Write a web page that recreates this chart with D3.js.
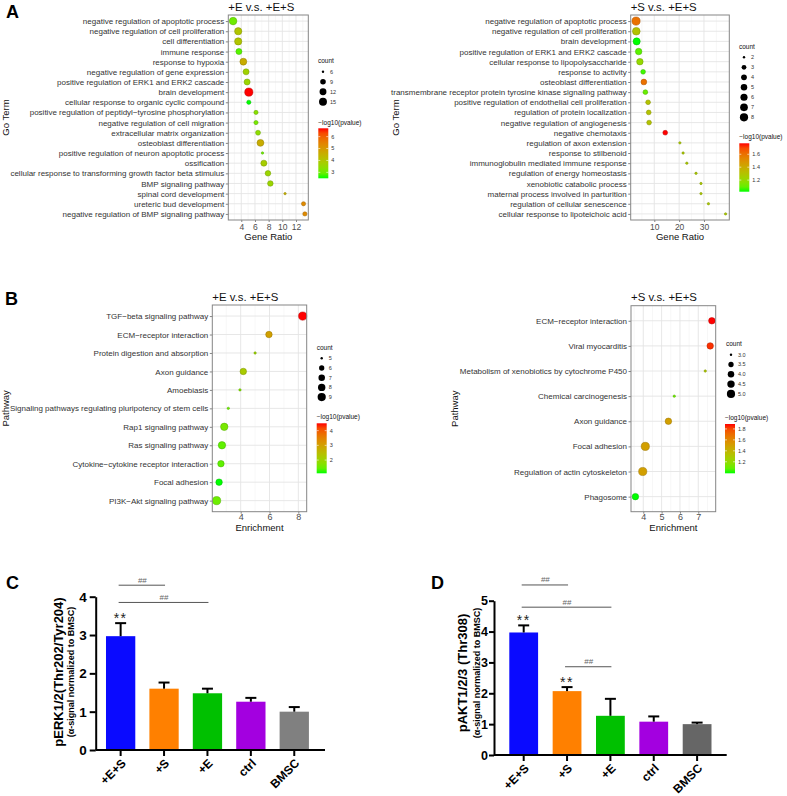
<!DOCTYPE html>
<html><head><meta charset="utf-8">
<script src="https://cdn.jsdelivr.net/npm/d3@7"></script>
<style>
body{margin:0;background:#fff}
svg{display:block}
text{font-family:"Liberation Sans",Arial,Helvetica,sans-serif}
</style>
</head><body>
<svg id="c" width="787" height="796"></svg>
<script>
// ---------------- DATA ----------------
// Panel A left: +E v.s. +E+S (GO terms)
const aLeftTerms = [
  "negative regulation of apoptotic process",
  "negative regulation of cell proliferation",
  "cell differentiation",
  "immune response",
  "response to hypoxia",
  "negative regulation of gene expression",
  "positive regulation of ERK1 and ERK2 cascade",
  "brain development",
  "cellular response to organic cyclic compound",
  "positive regulation of peptidyl\u2212tyrosine phosphorylation",
  "negative regulation of cell migration",
  "extracellular matrix organization",
  "osteoblast differentiation",
  "positive regulation of neuron apoptotic process",
  "ossification",
  "cellular response to transforming growth factor beta stimulus",
  "BMP signaling pathway",
  "spinal cord development",
  "ureteric bud development",
  "negative regulation of BMP signaling pathway"
];
const aLeftRatio = [2.8, 3.55, 3.55, 3.65, 4.3, 4.7, 4.85, 5.1, 5.1, 6.15, 6.15, 6.45, 6.8, 7.1, 7.3, 7.9, 8.25, 10.4, 13.1, 13.3];
const aLeftCount = [14, 13, 13, 10, 12, 10, 10, 16, 7, 7, 7, 8, 12, 6, 10, 9, 9, 6, 7, 7];
const aLeftLogP  = [3.0, 4.0, 4.0, 2.8, 4.6, 3.7, 3.6, 6.7, 2.5, 3.3, 3.1, 3.4, 4.6, 3.0, 3.8, 3.6, 3.6, 4.5, 5.3, 5.3];
const aLeftCountBreaks = [6, 9, 12, 15];
const aLeftLogPBreaks = [3, 4, 5, 6];
const aLeftXTicks = [4, 6, 8, 10, 12];

// Panel A right: +S v.s. +E+S (GO terms)
const aRightTerms = [
  "negative regulation of apoptotic process",
  "negative regulation of cell proliferation",
  "brain development",
  "positive regulation of ERK1 and ERK2 cascade",
  "cellular response to lipopolysaccharide",
  "response to activity",
  "osteoblast differentiation",
  "transmembrane receptor protein tyrosine kinase signaling pathway",
  "positive regulation of endothelial cell proliferation",
  "regulation of protein localization",
  "negative regulation of angiogenesis",
  "negative chemotaxis",
  "regulation of axon extension",
  "response to stilbenoid",
  "immunoglobulin mediated immune response",
  "regulation of energy homeostasis",
  "xenobiotic catabolic process",
  "maternal process involved in parturition",
  "regulation of cellular senescence",
  "cellular response to lipoteichoic acid"
];
const aRightRatio = [2.65, 2.75, 2.9, 3.7, 4.2, 5.5, 5.8, 6.4, 7.5, 7.75, 7.9, 14.4, 20.3, 21.6, 23.1, 26.8, 28.8, 28.8, 31.8, 38.7];
const aRightCount = [8, 7, 6, 5, 5, 3, 4, 3, 3, 3, 3, 3, 2, 2, 2, 2, 2, 2, 2, 2];
const aRightLogP  = [1.6, 1.3, 1.02, 1.08, 1.2, 1.05, 1.6, 1.1, 1.3, 1.3, 1.3, 1.77, 1.27, 1.27, 1.27, 1.27, 1.27, 1.27, 1.27, 1.27];
const aRightCountBreaks = [2, 3, 4, 5, 6, 7, 8];
const aRightLogPBreaks = [1.2, 1.4, 1.6];
const aRightXTicks = [10, 20, 30];

// Panel B left: +E v.s. +E+S (KEGG pathways)
const bLeftTerms = [
  "TGF\u2212beta signaling pathway",
  "ECM\u2212receptor interaction",
  "Protein digestion and absorption",
  "Axon guidance",
  "Amoebiasis",
  "Signaling pathways regulating pluripotency of stem cells",
  "Rap1 signaling pathway",
  "Ras signaling pathway",
  "Cytokine\u2212cytokine receptor interaction",
  "Focal adhesion",
  "PI3K\u2212Akt signaling pathway"
];
const bLeftEnrich = [8.3, 5.96, 5.0, 4.18, 3.95, 3.14, 2.86, 2.7, 2.63, 2.5, 2.33];
const bLeftCount  = [9, 7, 5, 7, 5, 5, 8, 8, 7, 7, 9];
const bLeftLogP   = [4.5, 3.0, 2.0, 2.2, 1.7, 1.5, 1.6, 1.4, 1.4, 1.1, 1.5];
const bLeftCountBreaks = [5, 6, 7, 8, 9];
const bLeftLogPBreaks = [2, 3, 4];
const bLeftXTicks = [4, 6, 8];

// Panel B right: +S v.s. +E+S (KEGG pathways)
const bRightTerms = [
  "ECM\u2212receptor interaction",
  "Viral myocarditis",
  "Metabolism of xenobiotics by cytochrome P450",
  "Chemical carcinogenesis",
  "Axon guidance",
  "Focal adhesion",
  "Regulation of actin cytoskeleton",
  "Phagosome"
];
const bRightEnrich = [7.74, 7.65, 7.38, 5.69, 5.37, 4.11, 3.97, 3.57];
const bRightCount  = [4, 4, 3, 3, 4, 5, 5, 4];
const bRightLogP   = [1.89, 1.85, 1.3, 1.1, 1.5, 1.5, 1.5, 0.99];
const bRightCountBreaks = [3.0, 3.5, 4.0, 4.5, 5.0];
const bRightLogPBreaks = [1.2, 1.4, 1.6, 1.8];
const bRightXTicks = [4, 5, 6, 7];

// Panel C / D: bar charts
const groups = ["+E+S", "+S", "+E", "ctrl", "BMSC"];
const erkMean = [2.97, 1.60, 1.48, 1.26, 1.00];
const erkErr  = [0.34, 0.16, 0.12, 0.10, 0.12];
const erkStars = ["**", "", "", "", ""];
const erkSig = [["+E+S", "+S", 4.30], ["+E+S", "+E", 3.85]];
const erkTicks = [0, 1, 2, 3, 4];

const aktMean = [3.97, 2.07, 1.27, 1.08, 1.00];
const aktErr  = [0.23, 0.13, 0.55, 0.17, 0.05];
const aktStars = ["**", "**", "", "", ""];
const aktSig = [["+E+S", "+S", 5.51], ["+E+S", "+E", 4.79], ["+S", "+E", 2.86]];
const aktTicks = [0, 1, 2, 3, 4, 5];

// ---------------- DRAWING ----------------
const svg = d3.select("#c");
const FONT = '"Liberation Sans",Arial,Helvetica,sans-serif';
let gradId = 0;

function dotplot(o) {
  const g = svg.append("g");
  const x = d3.scaleLinear().domain(o.xDomain).range([o.x0, o.x1]);
  const y = d3.scalePoint().domain(o.terms).range([o.y0, o.y1]).padding(0.6);
  const cExt = d3.extent(o.logp);
  const col = d3.scaleLinear().domain(cExt).range(["#00ff00", "#ff0000"]).interpolate(d3.interpolateLab);
  const lin = d3.scaleLinear().domain(d3.extent(o.count)).range([0, 1]).clamp(true);
  const rad = c => 1.2 + 2.9 * Math.sqrt(lin(c));

  g.append("rect").attr("x", o.x0).attr("y", o.y0).attr("width", o.x1 - o.x0).attr("height", o.y1 - o.y0).attr("fill", "#fff");
  const grid = g.append("g");
  const minor = [];
  for (let i = 0; i < o.xTicks.length - 1; i++) minor.push((o.xTicks[i] + o.xTicks[i + 1]) / 2);
  const step = o.xTicks[1] - o.xTicks[0];
  minor.unshift(o.xTicks[0] - step / 2);
  minor.push(o.xTicks[o.xTicks.length - 1] + step / 2);
  minor.filter(v => x(v) > o.x0 && x(v) < o.x1).forEach(v =>
    grid.append("line").attr("x1", x(v)).attr("x2", x(v)).attr("y1", o.y0).attr("y2", o.y1)
      .attr("stroke", "#f2f2f2").attr("stroke-width", 0.6));
  o.xTicks.forEach(v =>
    grid.append("line").attr("x1", x(v)).attr("x2", x(v)).attr("y1", o.y0).attr("y2", o.y1)
      .attr("stroke", "#e4e4e4").attr("stroke-width", 0.9));
  o.terms.forEach(t =>
    grid.append("line").attr("x1", o.x0).attr("x2", o.x1).attr("y1", y(t)).attr("y2", y(t))
      .attr("stroke", "#e4e4e4").attr("stroke-width", 0.9));

  const pts = o.terms.map((t, i) => ({ t, v: o.ratio[i], c: o.count[i], p: o.logp[i] }));
  g.append("g").selectAll("circle").data(pts).join("circle")
    .attr("cx", d => x(d.v)).attr("cy", d => y(d.t)).attr("r", d => rad(d.c))
    .attr("fill", d => col(d.p))
    .attr("stroke", d => d3.color(col(d.p)).darker(0.9)).attr("stroke-width", 0.5);

  g.append("rect").attr("x", o.x0).attr("y", o.y0).attr("width", o.x1 - o.x0).attr("height", o.y1 - o.y0)
    .attr("fill", "none").attr("stroke", "#858585").attr("stroke-width", 1);

  const xa = g.append("g").attr("transform", `translate(0,${o.y1})`)
    .call(d3.axisBottom(x).tickValues(o.xTicks).tickSize(2).tickPadding(o.xTickPad).tickFormat(d3.format("~g")));
  xa.select(".domain").remove();
  xa.attr("font-family", FONT).attr("font-size", o.xTickFont);
  xa.selectAll("line").attr("stroke", "#858585");
  xa.selectAll("text").attr("fill", "#4d4d4d");

  const ya = g.append("g").attr("transform", `translate(${o.x0},0)`)
    .call(d3.axisLeft(y).tickSize(2.5).tickPadding(1.5));
  ya.select(".domain").remove();
  ya.attr("font-family", FONT).attr("font-size", o.yTickFont);
  ya.selectAll("line").attr("stroke", "#858585");
  ya.selectAll("text").attr("fill", "#333");

  // title
  g.append("text").attr("x", o.x0).attr("y", o.y0 - 4.5).attr("font-size", 11.4).attr("fill", "#111").text(o.title);
  // axis titles
  g.append("text").attr("x", (o.x0 + o.x1) / 2).attr("y", o.xTitleY).attr("text-anchor", "middle")
    .attr("font-size", 9.5).attr("fill", "#111").text(o.xTitle);
  g.append("text").attr("transform", `translate(${o.yTitleX},${(o.y0 + o.y1) / 2}) rotate(-90)`)
    .attr("text-anchor", "middle").attr("dy", "0.35em").attr("font-size", 9.5).attr("fill", "#111").text(o.yTitle);

  // size legend
  const sl = o.sizeLeg;
  g.append("text").attr("x", sl.x).attr("y", sl.titleY).attr("dy", "0.35em").attr("font-size", 6.5).attr("fill", "#111").text("count");
  o.countBreaks.forEach((b, i) => {
    const yy = sl.y + i * sl.step;
    g.append("circle").attr("cx", sl.x + 5).attr("cy", yy).attr("r", rad(b)).attr("fill", "#000");
    g.append("text").attr("x", sl.x + 12).attr("y", yy).attr("dy", "0.35em").attr("font-size", 5.5).attr("fill", "#333")
      .text(d3.format(o.countFmt)(b));
  });

  // colour legend
  const cl = o.colLeg;
  g.append("text").attr("x", cl.x).attr("y", cl.titleY).attr("dy", "0.35em").attr("font-size", 6.5).attr("fill", "#111").text("\u2212log10(pvalue)");
  const id = "grad" + (gradId++);
  const grad = svg.append("defs").append("linearGradient").attr("id", id)
    .attr("x1", 0).attr("y1", 1).attr("x2", 0).attr("y2", 0);
  d3.range(0, 1.0001, 0.1).forEach(t => {
    grad.append("stop").attr("offset", t).attr("stop-color", col(cExt[0] + t * (cExt[1] - cExt[0])));
  });
  const barW = 10;
  g.append("rect").attr("x", cl.x).attr("y", cl.top).attr("width", barW).attr("height", cl.bottom - cl.top)
    .attr("fill", `url(#${id})`);
  const cy = d3.scaleLinear().domain(cExt).range([cl.bottom, cl.top]);
  o.logpBreaks.forEach(b => {
    g.append("line").attr("x1", cl.x).attr("x2", cl.x + 2).attr("y1", cy(b)).attr("y2", cy(b)).attr("stroke", "#fff").attr("stroke-width", 0.6);
    g.append("line").attr("x1", cl.x + barW - 2).attr("x2", cl.x + barW).attr("y1", cy(b)).attr("y2", cy(b)).attr("stroke", "#fff").attr("stroke-width", 0.6);
    g.append("text").attr("x", cl.x + barW + 3).attr("y", cy(b)).attr("dy", "0.35em").attr("font-size", 5.5).attr("fill", "#333")
      .text(d3.format(o.logpFmt)(b));
  });
}

dotplot({
  terms: aLeftTerms, ratio: aLeftRatio, count: aLeftCount, logp: aLeftLogP,
  countBreaks: aLeftCountBreaks, logpBreaks: aLeftLogPBreaks, xTicks: aLeftXTicks,
  countFmt: "d", logpFmt: "d",
  x0: 228.3, x1: 308.3, y0: 15, y1: 220, xDomain: [2.1, 13.8],
  title: "+E v.s. +E+S", xTitle: "Gene Ratio", yTitle: "Go Term",
  xTitleY: 239.5, yTitleX: 6, xTickFont: 8.5, xTickPad: 2, yTickFont: 8,
  sizeLeg: { x: 318, titleY: 61, y: 71.7, step: 10 },
  colLeg: { x: 318.3, titleY: 122.7, top: 128.3, bottom: 178.3 }
});
dotplot({
  terms: aRightTerms, ratio: aRightRatio, count: aRightCount, logp: aRightLogP,
  countBreaks: aRightCountBreaks, logpBreaks: aRightLogPBreaks, xTicks: aRightXTicks,
  countFmt: "d", logpFmt: ".1f",
  x0: 630.7, x1: 729.3, y0: 15, y1: 220, xDomain: [0.5, 40.2],
  title: "+S v.s. +E+S", xTitle: "Gene Ratio", yTitle: "Go Term",
  xTitleY: 239.5, yTitleX: 396, xTickFont: 8.5, xTickPad: 2, yTickFont: 8,
  sizeLeg: { x: 739, titleY: 46.7, y: 57.3, step: 10 },
  colLeg: { x: 739.3, titleY: 136.7, top: 143.3, bottom: 191.7 }
});
dotplot({
  terms: bLeftTerms, ratio: bLeftEnrich, count: bLeftCount, logp: bLeftLogP,
  countBreaks: bLeftCountBreaks, logpBreaks: bLeftLogPBreaks, xTicks: bLeftXTicks,
  countFmt: "d", logpFmt: "d",
  x0: 212.3, x1: 306.7, y0: 305, y1: 511.7, xDomain: [2.03, 8.58],
  title: "+E v.s. +E+S", xTitle: "Enrichment", yTitle: "Pathway",
  xTitleY: 531, yTitleX: 6, xTickFont: 9, xTickPad: 0, yTickFont: 8,
  sizeLeg: { x: 316.7, titleY: 347.3, y: 358.3, step: 9.7 },
  colLeg: { x: 316.7, titleY: 416.7, top: 423.3, bottom: 473.3 }
});
dotplot({
  terms: bRightTerms, ratio: bRightEnrich, count: bRightCount, logp: bRightLogP,
  countBreaks: bRightCountBreaks, logpBreaks: bRightLogPBreaks, xTicks: bRightXTicks,
  countFmt: ".1f", logpFmt: ".1f",
  x0: 631, x1: 715.7, y0: 305.7, y1: 511.7, xDomain: [3.33, 7.95],
  title: "+S v.s. +E+S", xTitle: "Enrichment", yTitle: "Pathway",
  xTitleY: 531, yTitleX: 455, xTickFont: 9, xTickPad: 0, yTickFont: 8,
  sizeLeg: { x: 726, titleY: 343.3, y: 354.7, step: 9.8 },
  colLeg: { x: 725, titleY: 417.3, top: 424, bottom: 473.3 }
});

// Bar chart panels
function barplot(o) {
  const g = svg.append("g");
  const y = d3.scaleLinear().domain([0, o.ticks[o.ticks.length - 1]]).range([o.yBottom, o.yTop]);
  const x = d3.scaleBand().domain(groups).range([o.xLeft, o.xRight]).paddingInner(o.padIn).paddingOuter(o.padOut);
  const data = groups.map((k, i) => ({ k, m: o.mean[i], e: o.err[i], s: o.stars[i], c: o.colors[i] }));

  g.selectAll("rect.bar").data(data).join("rect")
    .attr("x", d => x(d.k)).attr("width", x.bandwidth())
    .attr("y", d => y(d.m)).attr("height", d => y(0) - y(d.m)).attr("fill", d => d.c);

  const eb = g.append("g").attr("stroke", "#000").attr("stroke-width", 2);
  data.forEach(d => {
    const cx = x(d.k) + x.bandwidth() / 2;
    eb.append("line").attr("x1", cx).attr("x2", cx).attr("y1", y(d.m)).attr("y2", y(d.m + d.e));
    eb.append("line").attr("x1", cx - 5.5).attr("x2", cx + 5.5).attr("y1", y(d.m + d.e)).attr("y2", y(d.m + d.e));
    if (d.s) g.append("text").attr("x", cx).attr("y", y(d.m + d.e) - 0.5).attr("text-anchor", "middle")
      .attr("font-size", 14).attr("letter-spacing", 1.5).attr("fill", "#222").text(d.s);
  });

  const ya = g.append("g").attr("transform", `translate(${o.xLeft},0)`)
    .call(d3.axisLeft(y).tickValues(o.ticks).tickSize(o.yTickSize).tickSizeOuter(0).tickPadding(o.yTickPad).tickFormat(d3.format("d")));
  ya.attr("font-family", FONT).attr("font-size", o.yTickFont).attr("font-weight", "bold");
  ya.selectAll("line, path").attr("stroke", "#000").attr("stroke-width", 2);
  ya.selectAll("text").attr("fill", "#000");

  const xa = g.append("g").attr("transform", `translate(0,${o.yBottom})`)
    .call(d3.axisBottom(x).tickSize(6).tickSizeOuter(0));
  xa.select(".domain").attr("d", `M${o.xLeft},0H${o.axisEnd}`);
  xa.selectAll("line, path").attr("stroke", "#000").attr("stroke-width", 2);
  xa.attr("font-family", FONT).attr("font-size", 12).attr("font-weight", "bold");
  xa.selectAll("text").attr("fill", "#000").attr("text-anchor", "end")
    .attr("x", 0).attr("y", 0).attr("dy", "0.35em")
    .attr("transform", "translate(3,11) rotate(-45)");

  // significance lines
  o.sig.forEach(([a, b, v]) => {
    const xa1 = x(a) + x.bandwidth() / 2, xb = x(b) + x.bandwidth() / 2;
    g.append("line").attr("x1", xa1 - 2).attr("x2", xb + 1).attr("y1", y(v)).attr("y2", y(v))
      .attr("stroke", "#555").attr("stroke-width", 1);
    g.append("text").attr("x", (xa1 + xb) / 2).attr("y", y(v) - 2.5).attr("text-anchor", "middle")
      .attr("font-size", 8).attr("fill", "#666").text("##");
  });

  // y titles
  const yc = o.titleYC;
  g.append("text").attr("transform", `translate(${o.t1x},${yc}) rotate(-90)`).attr("text-anchor", "middle")
    .attr("dy", "0.35em").attr("font-size", 13).attr("font-weight", "bold").attr("fill", "#000").text(o.title1);
  g.append("text").attr("transform", `translate(${o.t2x},${yc}) rotate(-90)`).attr("text-anchor", "middle")
    .attr("dy", "0.35em").attr("font-size", 9).attr("font-weight", "bold").attr("fill", "#000").text(o.title2);
}

barplot({
  mean: erkMean, err: erkErr, stars: erkStars, sig: erkSig, ticks: erkTicks,
  colors: ["#0a0aff", "#ff8000", "#00c000", "#a300e0", "#808080"],
  xLeft: 95.7, xRight: 319.2, axisEnd: 325, padIn: 0.325, padOut: 0.237,
  yTop: 596.7, yBottom: 750, yTickSize: 6, yTickPad: 3, yTickFont: 13.5,
  title1: "pERK1/2(Thr202/Tyr204)", title2: "(\u03b1-signal normalized to BMSC)",
  t1x: 58, t2x: 71, titleYC: 672
});
barplot({
  mean: aktMean, err: aktErr, stars: aktStars, sig: aktSig, ticks: aktTicks,
  colors: ["#0a0aff", "#ff8000", "#00c000", "#a300e0", "#666666"],
  xLeft: 494, xRight: 726.8, axisEnd: 726.7, padIn: 0.336, padOut: 0.353,
  yTop: 600.7, yBottom: 755, yTickSize: 5, yTickPad: 1, yTickFont: 12.5,
  title1: "pAKT1/2/3 (Thr308)", title2: "(\u03b1-signal normalized to BMSC)",
  t1x: 462, t2x: 476.5, titleYC: 673
});

// panel letters
[["A", 6, 17.5], ["B", 5, 305], ["C", 6, 589], ["D", 431, 589]].forEach(([t, px, py]) =>
  svg.append("text").attr("x", px).attr("y", py).attr("font-size", 18).attr("font-weight", "bold").attr("fill", "#000").text(t));
</script>
</body></html>
